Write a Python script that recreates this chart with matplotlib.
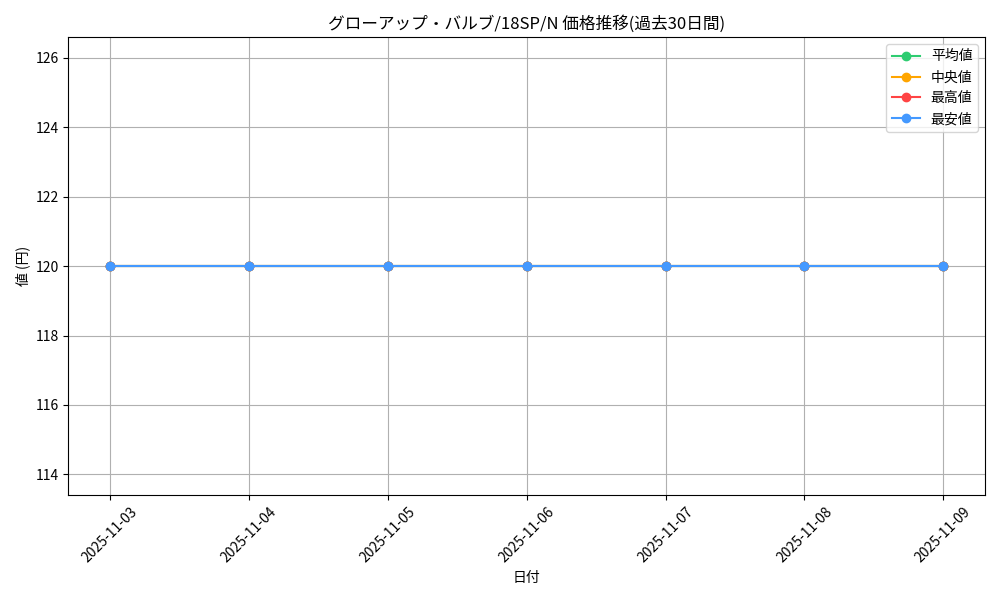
import matplotlib
matplotlib.use("Agg")
import matplotlib.pyplot as plt

plt.rcParams['font.family'] = ['Noto Sans CJK JP', 'DejaVu Sans']

dates = ["2025-11-03", "2025-11-04", "2025-11-05", "2025-11-06",
         "2025-11-07", "2025-11-08", "2025-11-09"]
avg_price = [120, 120, 120, 120, 120, 120, 120]
median_price = [120, 120, 120, 120, 120, 120, 120]
max_price = [120, 120, 120, 120, 120, 120, 120]
min_price = [120, 120, 120, 120, 120, 120, 120]

fig, ax = plt.subplots(figsize=(10, 6), dpi=100)
ax.plot(dates, avg_price, marker='o', color='#2ecc71', label='平均値')
ax.plot(dates, median_price, marker='o', color='#ffa500', label='中央値')
ax.plot(dates, max_price, marker='o', color='#ff4444', label='最高値')
ax.plot(dates, min_price, marker='o', color='#4499ff', label='最安値')

ax.set_title('グローアップ・バルブ/18SP/N 価格推移(過去30日間)')
ax.set_xlabel('日付')
ax.set_ylabel('値 (円)')
ax.grid(True)
ax.legend(loc='upper right')
plt.xticks(rotation=45)
plt.tight_layout()
plt.savefig('out.png')
